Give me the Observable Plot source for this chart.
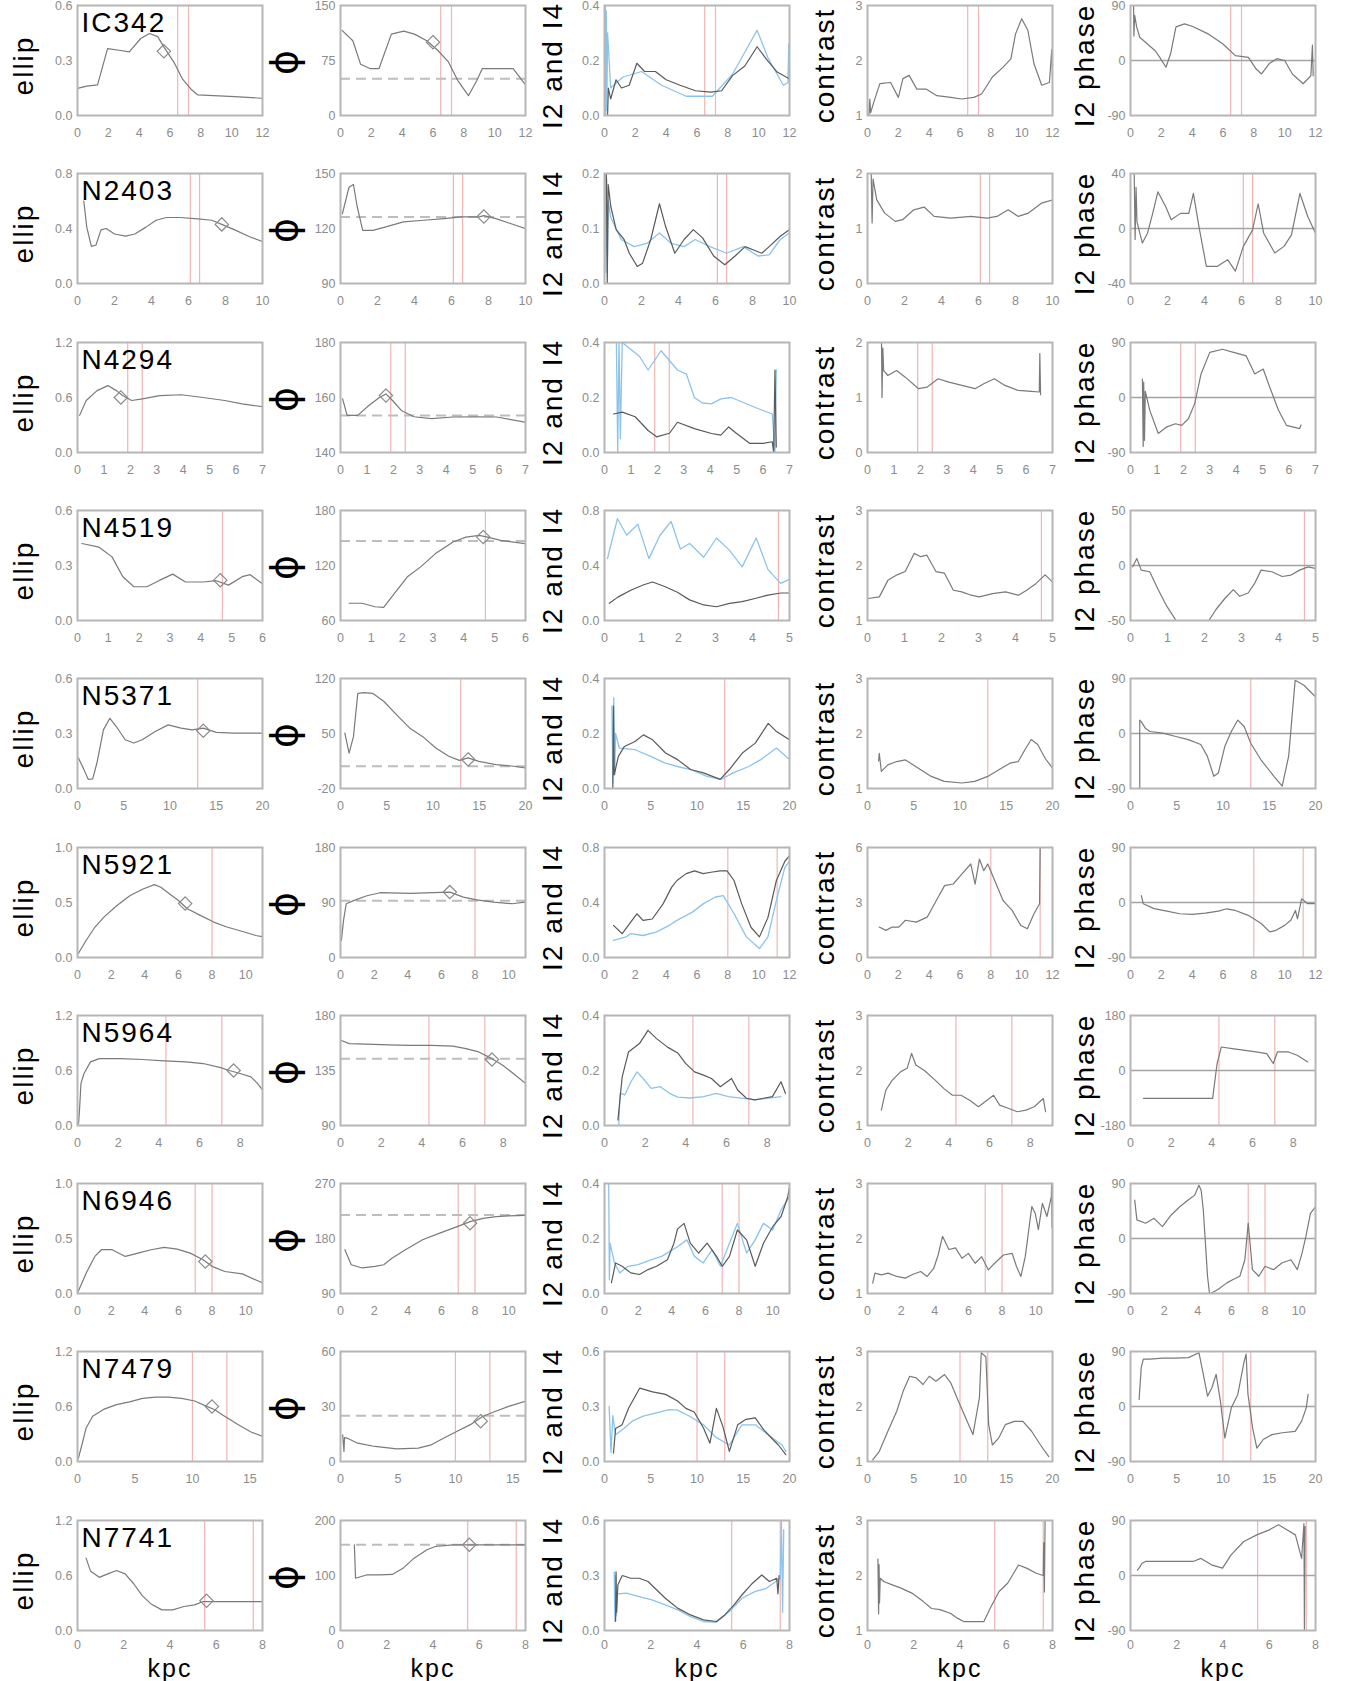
<!DOCTYPE html>
<html><head><meta charset="utf-8">
<script src="https://cdn.jsdelivr.net/npm/d3@7"></script>
<script src="https://cdn.jsdelivr.net/npm/@observablehq/plot@0.6"></script>
<style>
body{margin:0;background:#fff;}
#fig{position:relative;width:1351px;height:1681px;overflow:hidden;background:#fff;}
.cell{position:absolute;}
</style></head><body><div id="fig"></div>
<script>
// ---------------- data ----------------
const galaxies = ["IC342","N2403","N4294","N4519","N5371","N5921","N5964","N6946","N7479","N7741"];
const colLabels = ["ellip","\u03D5","I2 and I4","contrast","I2 phase"];
const xMaxInner = [12,10,7,6,20,11,9.1,11,16.1,8];
const xMaxOuter = [12,10,7,5,20,12,9.1,11,20,8];
const xTicksInner = [[0,2,4,6,8,10,12],[0,2,4,6,8,10],[0,1,2,3,4,5,6,7],[0,1,2,3,4,5,6],[0,5,10,15,20],[0,2,4,6,8,10],[0,2,4,6,8],[0,2,4,6,8,10],[0,5,10,15],[0,2,4,6,8]];
const xTicksOuter = [[0,2,4,6,8,10,12],[0,2,4,6,8,10],[0,1,2,3,4,5,6,7],[0,1,2,3,4,5],[0,5,10,15,20],[0,2,4,6,8,10,12],[0,2,4,6,8],[0,2,4,6,8,10],[0,5,10,15,20],[0,2,4,6,8]];
const ellipTicks = [[0,0.3,0.6],[0,0.4,0.8],[0,0.6,1.2],[0,0.3,0.6],[0,0.3,0.6],[0,0.5,1.0],[0,0.6,1.2],[0,0.5,1.0],[0,0.6,1.2],[0,0.6,1.2]];
const phiTicks = [[0,75,150],[90,120,150],[140,160,180],[60,120,180],[-20,50,120],[0,90,180],[90,135,180],[90,180,270],[0,30,60],[0,100,200]];
const i24Ticks = [[0,0.2,0.4],[0,0.1,0.2],[0,0.2,0.4],[0,0.4,0.8],[0,0.2,0.4],[0,0.4,0.8],[0,0.2,0.4],[0,0.2,0.4],[0,0.3,0.6],[0,0.3,0.6]];
const contrastTicks = [[1,2,3],[0,1,2],[0,1,2],[1,2,3],[1,2,3],[0,3,6],[1,2,3],[1,2,3],[1,2,3],[1,2,3]];
const phaseTicks = [[-90,0,90],[-40,0,40],[-90,0,90],[-50,0,50],[-90,0,90],[-90,0,90],[-180,0,180],[-90,0,90],[-90,0,90],[-90,0,90]];
const redLines = [[6.5,7.2],[6.1,6.6],[1.9,2.45],[4.7],[13.0],[8.0,11.2],[4.35,7.1],[7.0,8.0],[10.0,13.0],[5.5,7.6]];
const phiDisk = [50,126.3,153.5,146.6,8.3,93,144.7,218.5,25,155.8];
const ellipDiamond = [[5.6,0.35],[7.8,0.43],[1.64,0.6],[4.63,0.22],[13.6,0.315],[6.4,0.49],[7.68,0.6],[7.6,0.29],[11.7,0.6],[5.58,0.324]];
const phiDiamond = [[6.0,100],[7.75,126.5],[1.72,160.7],[4.63,151],[13.8,17],[6.5,107],[7.45,144],[7.7,205],[12.2,22],[5.57,155.8]];

// IC342
const ic342Ellip = [[0,0.148],[0.6,0.16],[1.3,0.167],[1.95,0.365],[2.7,0.356],[3.36,0.347],[4.1,0.42],[4.67,0.447],[5.2,0.43],[5.6,0.374],[6.3,0.284],[6.8,0.2],[7.4,0.14],[7.8,0.112],[10.2,0.103],[12,0.094]];
const ic342Phi = [[0.1,116],[0.8,102],[1.3,70],[1.9,64],[2.5,64],[3.3,111],[4.1,115],[4.8,111],[5.6,102],[6.3,89],[7,73],[7.6,48],[8.3,27],[8.85,48],[9.2,64],[10.3,64],[11.2,64],[11.95,43]];
const ic342I2 = [[0.2,0.0],[0.25,0.1],[0.4,0.06],[0.75,0.13],[1.1,0.1],[1.6,0.11],[2.1,0.19],[2.6,0.16],[3.3,0.16],[4,0.13],[4.9,0.11],[5.9,0.09],[6.9,0.085],[7.6,0.09],[8.3,0.145],[9.1,0.18],[9.9,0.25],[10.5,0.205],[11.2,0.158],[12,0.133]];
const ic342I4 = [[0.05,0.4],[0.08,0.0],[0.12,0.38],[0.15,0.02],[0.2,0.3],[0.4,0.1],[1.2,0.14],[2.4,0.16],[3.7,0.11],[5.3,0.07],[7,0.07],[8.3,0.15],[9.9,0.31],[10.6,0.21],[11.6,0.11],[11.9,0.12],[11.95,0.26],[12,0.12]];
const ic342Contrast = [[0.1,1.0],[0.15,1.3],[0.2,1.05],[0.44,1.27],[0.8,1.58],[1.5,1.6],[2,1.33],[2.3,1.67],[2.7,1.73],[3.2,1.48],[3.8,1.48],[4.5,1.36],[5.4,1.33],[6.1,1.3],[6.9,1.33],[7.4,1.39],[8.1,1.7],[8.8,1.88],[9.3,2.03],[9.6,2.48],[10,2.76],[10.4,2.55],[10.8,1.94],[11.3,1.55],[11.8,1.6],[11.95,2.2],[12,1.67]];
const ic342Phase = [[0.2,90],[0.22,40],[0.27,74],[0.4,55],[0.6,38],[1.1,27],[1.6,16],[1.9,5],[2.3,-11],[2.6,11],[2.95,55],[3.5,60],[4,56],[5,44],[6,27],[6.8,8],[7.65,5],[8.15,-14],[8.5,-22],[9,-5],[9.5,3],[10,0],[10.5,-22],[11.2,-38],[11.7,-25],[11.8,25],[11.85,-25]];
// N2403
const n2403Ellip = [[0.34,0.6],[0.5,0.41],[0.75,0.27],[1,0.28],[1.27,0.39],[1.55,0.4],[2,0.36],[2.6,0.345],[3.1,0.36],[3.7,0.41],[4.25,0.46],[4.8,0.48],[5.55,0.48],[6.5,0.47],[7.25,0.46],[7.8,0.43],[8.5,0.39],[9.3,0.34],[10,0.305]];
const n2403Phi = [[0.1,128],[0.46,142.5],[0.7,144],[0.9,132],[1.2,119],[1.75,119],[2.5,121],[3.4,123.6],[4.5,124.5],[5.6,125.4],[6.5,126.3],[7.5,126.3],[7.75,127],[8.4,125.4],[9.1,123],[10,120]];
const n2403I2 = [[0.1,0.2],[0.15,0.0],[0.2,0.18],[0.34,0.14],[0.63,0.098],[1.06,0.08],[1.34,0.055],[1.77,0.031],[2.06,0.037],[2.5,0.08],[2.97,0.145],[3.3,0.104],[3.8,0.055],[4.3,0.08],[4.8,0.098],[5.3,0.083],[5.9,0.05],[6.5,0.034],[7.06,0.05],[7.6,0.067],[8.06,0.061],[8.5,0.055],[8.9,0.067],[9.5,0.086],[10,0.098]];
const n2403I4 = [[0.05,0.2],[0.08,0.02],[0.12,0.19],[0.16,0.05],[0.2,0.15],[0.34,0.12],[0.9,0.08],[1.6,0.067],[2.3,0.073],[2.97,0.092],[3.6,0.073],[4.3,0.067],[4.9,0.08],[5.7,0.067],[6.6,0.055],[7.5,0.067],[8.3,0.05],[8.9,0.052],[9.5,0.08],[10,0.092]];
const n2403Contrast = [[0.2,2.0],[0.25,1.1],[0.3,1.9],[0.5,1.52],[0.93,1.28],[1.5,1.13],[1.9,1.16],[2.5,1.34],[3.06,1.39],[3.6,1.22],[4.5,1.19],[5.6,1.22],[6.46,1.19],[7,1.22],[7.6,1.34],[8.15,1.22],[8.7,1.28],[9.4,1.46],[10,1.52]];
const n2403Phase = [[0.2,40],[0.25,-8],[0.3,30],[0.35,5],[0.64,-10.6],[0.92,-3.4],[1.2,11],[1.48,26.7],[1.9,16],[2.2,6.3],[2.7,11],[3.15,11],[3.4,25.5],[3.7,1.4],[4.1,-27.5],[4.7,-27.5],[5.25,-22.7],[5.67,-31],[6.1,-13],[6.6,-1],[6.9,18],[7.2,-3.4],[7.8,-17.8],[8.3,-13],[8.7,-4.6],[9.16,25.5],[9.58,8.7],[10,-3.4]];
// N4294
const n4294Ellip = [[0.08,0.405],[0.33,0.567],[0.74,0.675],[1.15,0.73],[1.47,0.675],[1.72,0.62],[2.05,0.567],[2.46,0.585],[3.11,0.62],[3.93,0.63],[4.75,0.6],[5.57,0.567],[6.23,0.53],[7,0.5]];
const n4294Phi = [[0.08,159.5],[0.25,153.5],[0.65,153.5],[1.06,157],[1.47,160],[1.72,161.3],[1.96,159],[2.3,155.3],[2.78,153],[3.44,152.3],[4.26,152.9],[5.07,153],[5.9,152.9],[7,151]];
const n4294I2 = [[0.34,0.14],[0.67,0.147],[1.16,0.13],[1.65,0.08],[1.97,0.057],[2.46,0.07],[2.76,0.11],[3.4,0.087],[4.05,0.069],[4.4,0.063],[4.7,0.093],[5.0,0.069],[5.5,0.033],[6.0,0.033],[6.35,0.039],[6.4,0.0],[6.45,0.3],[6.5,0.02]];
const n4294I4 = [[0.45,0.4],[0.5,0.0],[0.55,0.4],[0.6,0.05],[0.67,0.4],[1.32,0.35],[1.65,0.3],[2.14,0.37],[2.76,0.3],[3.1,0.285],[3.4,0.2],[3.7,0.18],[4.05,0.177],[4.4,0.195],[4.8,0.2],[5.3,0.18],[5.8,0.16],[6.35,0.14],[6.45,0.0],[6.5,0.3]];
const n4294Contrast = [[0.53,2.0],[0.55,1.0],[0.58,1.9],[0.61,1.49],[0.77,1.4],[1.1,1.49],[1.43,1.37],[1.93,1.16],[2.26,1.19],[2.67,1.34],[3.08,1.28],[3.57,1.22],[4.07,1.16],[4.4,1.25],[4.8,1.34],[5.2,1.22],[5.7,1.13],[6.2,1.11],[6.5,1.1],[6.52,1.8],[6.55,1.05]];
const n4294Phase = [[0.45,30],[0.48,-80],[0.5,25],[0.53,-70],[0.56,10],[0.73,-21],[1.05,-59],[1.38,-48],[1.7,-43],[1.94,-45.5],[2.19,-34.7],[2.43,-10],[2.67,38.5],[3,73.8],[3.48,79],[3.9,73.8],[4.38,68],[4.7,38.5],[5.02,46.6],[5.27,16.8],[5.6,-21],[5.9,-45.5],[6.4,-51],[6.45,-45]];
// N4519
const n4519Ellip = [[0.14,0.42],[0.7,0.40],[1.12,0.347],[1.47,0.239],[1.83,0.184],[2.25,0.184],[2.67,0.22],[3.09,0.253],[3.5,0.21],[4.07,0.21],[4.5,0.217],[4.9,0.193],[5.34,0.239],[5.6,0.25],[6,0.2]];
const n4519Phi = [[0.28,78.8],[0.7,78.8],[1.12,75],[1.4,74.4],[1.75,89.6],[2.17,107.7],[2.6,118.5],[3.08,133],[3.65,145.7],[4.07,151],[4.5,152.8],[4.77,151],[5.2,147.4],[6,143.8]];
const n4519I2 = [[0.13,0.125],[0.36,0.17],[0.71,0.22],[1.06,0.26],[1.3,0.28],[1.64,0.245],[1.97,0.205],[2.3,0.15],[2.68,0.113],[3.03,0.1],[3.38,0.125],[3.72,0.137],[4.07,0.16],[4.42,0.185],[4.76,0.2],[5,0.2]];
const n4519I4 = [[0.08,0.45],[0.35,0.74],[0.6,0.62],[0.9,0.7],[1.2,0.45],[1.5,0.62],[1.8,0.72],[2.05,0.52],[2.3,0.56],[2.68,0.46],[3.03,0.6],[3.38,0.51],[3.72,0.39],[4.1,0.6],[4.42,0.37],[4.76,0.27],[5,0.3]];
const n4519Contrast = [[0.02,1.4],[0.32,1.43],[0.55,1.73],[0.8,1.83],[1.02,1.89],[1.26,2.22],[1.44,2.16],[1.6,2.19],[1.85,1.89],[2.08,1.86],[2.32,1.55],[2.55,1.52],[2.8,1.46],[3.02,1.43],[3.38,1.49],[3.73,1.52],[4.08,1.46],[4.3,1.55],[4.55,1.67],[4.8,1.83],[5,1.7]];
const n4519Phase = [[0.06,-1.2],[0.17,6.3],[0.29,-4.2],[0.52,-5.7],[0.75,-22],[0.98,-37],[1.27,-52],[1.5,-62],[1.85,-60],[2.08,-52],[2.31,-40],[2.55,-30],[2.78,-22],[2.95,-28],[3.18,-25],[3.36,-16],[3.53,-4.2],[3.82,-5.7],[4.1,-10],[4.34,-8.7],[4.57,-4.2],[4.8,-1.2],[5,-2.7]];
// N5371
const n5371Ellip = [[0.1,0.166],[0.7,0.103],[1.17,0.049],[1.64,0.052],[2.1,0.139],[2.8,0.32],[3.5,0.383],[4.2,0.338],[5.15,0.266],[6.1,0.248],[7,0.266],[8.4,0.311],[9.8,0.347],[11.2,0.329],[12.4,0.32],[13.6,0.329],[15,0.306],[16.9,0.302],[20,0.302]];
const n5371Phi = [[0.47,50.5],[0.93,25],[1.4,46],[1.87,101],[2.57,102],[3.5,101],[4.67,91],[6.07,73.7],[7.5,56.8],[8.9,46],[10.3,31.5],[11.7,21],[12.85,15.8],[13.8,19],[14.95,14.6],[16.8,10.4],[18.7,8.3],[20,6.2]];
const n5371I2 = [[0.9,0.0],[0.97,0.3],[1.05,0.05],[1.5,0.117],[2.15,0.153],[3.3,0.171],[4.2,0.195],[5.2,0.177],[6.6,0.129],[7.9,0.105],[9.3,0.069],[10.7,0.057],[12.5,0.033],[13.5,0.069],[14.9,0.129],[16.3,0.165],[17.7,0.237],[18.6,0.207],[20,0.177]];
const n5371I4 = [[0.8,0.3],[0.9,0.02],[1.0,0.33],[1.1,0.05],[1.2,0.2],[1.6,0.147],[3.3,0.141],[5,0.117],[6.5,0.093],[7.9,0.08],[9.3,0.069],[11,0.045],[12.6,0.033],[13.9,0.057],[15.6,0.08],[16.9,0.105],[18.6,0.147],[20,0.105]];
const n5371Contrast = [[1.2,1.5],[1.27,1.64],[1.5,1.31],[2.2,1.43],[3.15,1.49],[4.1,1.52],[5.5,1.37],[6.9,1.22],[8.3,1.13],[10.2,1.1],[11.6,1.13],[13,1.22],[14.2,1.34],[15.4,1.46],[16.3,1.49],[17,1.7],[17.7,1.89],[18.4,1.8],[19.2,1.55],[20,1.37]];
const n5371Phase = [[1.0,-90],[1.0,22],[1.16,19.5],[1.6,8.7],[2.1,3.3],[3.5,0.5],[4.9,-4.9],[6.25,-10],[7.6,-18],[8.3,-37],[9,-70],[9.5,-64.5],[10.2,-21],[10.9,3.3],[11.6,22],[12.3,11],[13,-16],[14.1,-43],[15.5,-70],[16.4,-86],[17.1,-37],[17.8,87],[18.75,79],[20,60]];
// N5921
const n5921Ellip = [[0.05,0.036],[0.52,0.157],[1.04,0.277],[1.57,0.367],[2.35,0.473],[3.13,0.563],[3.9,0.623],[4.57,0.663],[4.96,0.639],[5.48,0.578],[6,0.518],[6.53,0.443],[7.3,0.383],[8.1,0.322],[8.88,0.277],[9.92,0.232],[10.6,0.2],[11,0.19]];
const n5921Phi = [[0.05,28],[0.18,60.7],[0.34,88],[0.78,93],[1.57,101],[2.35,106],[4.18,105],[5.5,106],[6.5,107],[7.3,98.7],[8.1,94.4],[9.1,90.6],[10.2,88],[11,90.6]];
const n5921I2 = [[0.58,0.234],[1.15,0.173],[1.7,0.258],[2.1,0.318],[2.5,0.27],[3.1,0.28],[3.8,0.39],[4.35,0.51],[4.7,0.56],[5.3,0.61],[5.84,0.63],[6.4,0.61],[6.9,0.62],[7.5,0.63],[7.95,0.63],[8.4,0.56],[8.9,0.39],[9.5,0.22],[10.05,0.15],[10.6,0.29],[11.15,0.56],[11.7,0.7],[12,0.74]];
const n5921I4 = [[0.58,0.125],[1.4,0.15],[1.7,0.173],[2.5,0.16],[3.35,0.185],[4.2,0.234],[4.7,0.27],[5.7,0.33],[6.4,0.39],[7.2,0.44],[7.7,0.45],[8.4,0.32],[9.2,0.15],[10.05,0.065],[10.6,0.15],[11.15,0.415],[11.7,0.655],[12,0.7]];
const n5921Contrast = [[0.76,1.66],[1.19,1.48],[1.6,1.66],[2.03,1.66],[2.46,2.03],[3.16,1.93],[3.87,2.2],[4.58,3.29],[5,3.92],[5.56,4.01],[6.13,4.56],[6.7,5.1],[6.98,4.0],[7.26,5.37],[7.54,4.74],[7.8,5.1],[8.25,4.2],[8.8,3.1],[9.38,2.57],[9.94,1.75],[10.37,1.57],[10.8,2.39],[11.16,2.93],[11.2,6]];
const n5921Phase = [[0.7,11.4],[0.83,-2],[1.53,-10],[2.36,-14],[3.2,-18.4],[4,-19.5],[4.86,-17.4],[5.7,-14],[6.25,-10.3],[6.8,-13],[7.64,-21],[8.5,-34.7],[9.03,-48],[9.44,-45.5],[10,-37.4],[10.4,-29],[10.7,-13],[10.83,-26.6],[11.1,6],[11.5,-2],[12,-2]];
// N5964
const n5964Ellip = [[0.05,0.02],[0.1,0.17],[0.17,0.46],[0.32,0.567],[0.64,0.694],[1.07,0.73],[2.13,0.73],[3.2,0.72],[4.26,0.705],[5.33,0.694],[6.18,0.676],[7.04,0.632],[7.46,0.6],[8,0.567],[8.53,0.53],[8.85,0.46],[9.1,0.387]];
const n5964Phi = [[0.04,159.6],[0.43,157],[1.28,156.5],[2.34,156],[3.4,155.6],[4.47,155.6],[5.53,155],[6.17,152.9],[6.8,150.2],[7.45,144.7],[7.98,139.3],[8.5,132.5],[9.1,124.4]];
const n5964I2 = [[0.66,0.02],[0.87,0.177],[1.18,0.267],[1.72,0.298],[2.14,0.346],[2.56,0.316],[3.1,0.285],[3.6,0.264],[4.0,0.225],[4.43,0.195],[4.87,0.183],[5.26,0.171],[5.7,0.141],[6.25,0.171],[6.55,0.129],[6.98,0.099],[7.4,0.093],[7.82,0.099],[8.26,0.105],[8.68,0.159],[8.9,0.117]];
const n5964I4 = [[0.7,0.0],[0.77,0.117],[1.0,0.111],[1.3,0.159],[1.6,0.195],[1.9,0.171],[2.3,0.135],[2.75,0.141],[3.2,0.117],[3.6,0.103],[4.2,0.1],[4.87,0.105],[5.5,0.117],[6.1,0.105],[6.8,0.099],[7.4,0.093],[8.0,0.099],[8.68,0.105]];
const n5964Contrast = [[0.68,1.28],[0.9,1.64],[1.21,1.82],[1.64,1.98],[1.95,2.04],[2.17,2.31],[2.38,2.1],[2.8,2.0],[3.34,1.82],[3.76,1.67],[4.18,1.55],[4.6,1.55],[5.03,1.46],[5.46,1.34],[5.88,1.46],[6.2,1.55],[6.5,1.37],[6.95,1.31],[7.37,1.25],[7.8,1.28],[8.2,1.34],[8.65,1.49],[8.76,1.25]];
const n5964Phase = [[0.64,-91],[1.6,-91],[2.66,-91],[4.04,-91],[4.26,22.8],[4.47,77],[5,71.6],[5.64,66],[6.17,60.7],[6.7,55],[7.02,22.8],[7.23,60.7],[7.77,60.7],[8.2,50],[8.72,28]];
// N6946
const n6946Ellip = [[0.05,0.02],[0.52,0.187],[1.03,0.337],[1.42,0.398],[2.06,0.398],[2.84,0.337],[3.6,0.367],[4.38,0.398],[5.15,0.42],[5.93,0.404],[6.7,0.367],[7.47,0.307],[8,0.247],[8.76,0.2],[9.8,0.178],[11,0.096]];
const n6946Phi = [[0.26,161.6],[0.64,137],[1.29,131.8],[2.06,134.5],[2.57,137],[3.08,148],[3.86,161.6],[4.88,177.9],[5.9,188.7],[6.94,199.5],[7.7,207.7],[8.48,213],[9.25,215.8],[10,216.9],[11,218]];
const n6946I2 = [[0.41,0.039],[0.66,0.111],[1.05,0.099],[1.56,0.075],[2.08,0.069],[2.59,0.087],[3.1,0.099],[3.74,0.123],[4.13,0.183],[4.34,0.234],[4.73,0.255],[5.1,0.183],[5.6,0.147],[6.1,0.183],[6.66,0.135],[7.0,0.099],[7.43,0.135],[7.9,0.231],[8.45,0.195],[8.96,0.099],[9.45,0.183],[10,0.243],[10.5,0.28],[10.9,0.352],[11,0.388]];
const n6946I4 = [[0.25,0.4],[0.29,0.05],[0.33,0.183],[0.6,0.11],[0.9,0.075],[1.4,0.099],[2.0,0.105],[2.8,0.123],[3.4,0.135],[4.34,0.17],[4.9,0.195],[5.35,0.135],[5.87,0.111],[6.4,0.159],[6.9,0.099],[7.43,0.183],[7.9,0.255],[8.45,0.147],[8.96,0.195],[9.45,0.255],[10,0.231],[10.5,0.304],[11,0.352]];
const n6946Contrast = [[0.31,1.19],[0.44,1.37],[0.83,1.34],[1.22,1.37],[1.74,1.31],[2.25,1.28],[2.64,1.34],[3.16,1.4],[3.55,1.31],[3.94,1.46],[4.2,1.7],[4.46,2.04],[4.84,1.8],[5.23,1.83],[5.62,1.64],[6.0,1.73],[6.4,1.55],[6.79,1.67],[7.18,1.43],[7.56,1.55],[8.08,1.7],[8.6,1.73],[8.86,1.49],[9.12,1.31],[9.38,1.67],[9.64,2.28],[9.77,2.58],[9.97,2.46],[10.16,2.16],[10.4,2.64],[10.67,2.4],[10.93,2.76],[10.95,3],[10.97,2.2]];
const n6946Phase = [[0.25,62.9],[0.38,30.4],[0.9,25],[1.4,33],[1.9,19.5],[2.42,38.5],[2.93,52],[3.43,63],[3.82,71],[4.07,87],[4.2,79],[4.33,46.6],[4.58,-61.8],[4.7,-91],[5.2,-83.5],[5.73,-72.6],[6.1,-67],[6.5,-61.8],[6.8,-34.7],[7.0,25],[7.25,-51],[7.63,-61.8],[8.0,-45.5],[8.5,-51],[9.0,-40],[9.54,-34.7],[9.92,-51],[10.2,-24],[10.43,3.3],[10.7,41],[11,52]];
// N7479
const n7479Ellip = [[0.08,0.037],[0.38,0.18],[0.75,0.366],[1.32,0.494],[2.26,0.568],[3.4,0.62],[4.53,0.65],[5.66,0.688],[6.8,0.703],[7.9,0.703],[9.06,0.688],[10.2,0.66],[11.1,0.61],[11.9,0.568],[12.8,0.494],[14,0.4],[15.1,0.322],[16.1,0.275]];
const n7479Phi = [[0.19,14.6],[0.3,5.5],[0.35,13],[0.56,12.8],[1.5,10],[3,8.2],[4.9,6.9],[6.77,7.3],[7.9,9.1],[9,12.8],[10.15,16.5],[11.3,20.1],[12.4,24.7],[13.5,27.4],[14.7,30.2],[16.1,32.9]];
const n7479I2 = [[0.97,0.046],[1.2,0.18],[1.9,0.2],[2.6,0.29],[3.8,0.4],[5.2,0.38],[6.6,0.366],[7.9,0.33],[8.8,0.29],[9.7,0.27],[10.7,0.183],[11.4,0.1],[12.1,0.29],[12.8,0.19],[13.5,0.055],[14.4,0.2],[15.3,0.23],[16.3,0.238],[17.2,0.174],[18.2,0.12],[18.8,0.09],[19.6,0.037]];
const n7479I4 = [[0.5,0.3],[0.7,0.05],[0.9,0.25],[1.2,0.146],[2.1,0.18],[3,0.22],[4.2,0.247],[5.6,0.265],[7.0,0.283],[7.9,0.28],[9.2,0.247],[10.7,0.2],[12.1,0.13],[13.5,0.09],[14.85,0.2],[16.3,0.2],[17.7,0.146],[19.2,0.09],[19.6,0.055]];
const n7479Contrast = [[0.56,1.03],[1.27,1.18],[2.2,1.55],[3.15,1.91],[3.86,2.28],[4.56,2.55],[5.27,2.52],[6,2.4],[6.68,2.55],[7.4,2.46],[8.33,2.58],[9.0,2.43],[9.74,2.13],[10.7,1.76],[11.4,1.49],[12.1,2.16],[12.3,2.98],[12.8,2.9],[13.1,1.67],[13.5,1.3],[14.2,1.43],[14.9,1.67],[15.86,1.73],[16.8,1.73],[17.74,1.55],[18.7,1.3],[19.6,1.09]];
const n7479Phase = [[0.93,11.5],[1.16,63.7],[1.39,77.4],[2.08,77.4],[3.47,79],[4.86,79],[6.25,80],[7.4,88],[7.87,52.7],[8.33,17],[8.8,30.7],[9.26,52.7],[9.72,8.8],[10.2,-51.6],[10.9,-2.2],[11.6,19.8],[12.3,74.6],[12.5,85.6],[12.7,19.8],[13.2,-35],[13.66,-68],[14.35,-54],[15.3,-46],[16.4,-43],[17.8,-40.6],[18.5,-24],[19,-2.2],[19.2,19.8]];
// N7741
const n7741Ellip = [[0.37,0.79],[0.56,0.65],[0.94,0.58],[1.31,0.618],[1.69,0.655],[2.06,0.618],[2.43,0.51],[2.8,0.38],[3.18,0.29],[3.65,0.225],[4.12,0.225],[4.6,0.262],[5.06,0.28],[5.43,0.316],[6,0.316],[6.93,0.316],[8,0.316]];
const n7741Phi = [[0.6,155.8],[0.65,95],[1.12,101],[1.68,101],[2.24,102],[2.7,113],[3.18,131.5],[3.74,146.7],[4.1,152.7],[4.86,155.8],[5.5,155.8],[6.17,155.8],[8,155.8]];
const n7741I2 = [[0.48,0.05],[0.5,0.32],[0.52,0.1],[0.58,0.25],[0.77,0.3],[1.13,0.285],[1.5,0.285],[1.88,0.267],[2.25,0.222],[2.63,0.176],[2.98,0.14],[3.16,0.122],[3.72,0.085],[4.28,0.058],[4.84,0.049],[5.2,0.085],[5.6,0.14],[5.95,0.195],[6.4,0.258],[6.8,0.303],[7.13,0.267],[7.45,0.285],[7.5,0.2],[7.55,0.3]];
const n7741I4 = [[0.42,0.32],[0.45,0.05],[0.48,0.3],[0.52,0.08],[0.56,0.2],[0.95,0.204],[1.5,0.185],[2.05,0.167],[2.63,0.14],[3.16,0.113],[3.72,0.076],[4.28,0.049],[4.84,0.045],[5.4,0.104],[5.95,0.176],[6.5,0.212],[7.0,0.23],[7.6,0.285],[7.65,0.6],[7.7,0.1],[7.75,0.55]];
const n7741Contrast = [[0.45,2.3],[0.48,1.3],[0.5,2.2],[0.52,1.5],[0.55,1.95],[0.7,1.89],[1.07,1.83],[1.45,1.77],[1.92,1.68],[2.4,1.53],[2.77,1.4],[3.14,1.38],[3.6,1.31],[3.9,1.22],[4.18,1.16],[4.65,1.16],[5.03,1.16],[5.3,1.4],[5.69,1.71],[6.06,1.86],[6.53,2.19],[6.9,2.13],[7.29,2.04],[7.6,2.0],[7.62,2.6],[7.65,1.7],[7.68,3.0]];
const n7741Phase = [[0.3,9],[0.37,12],[0.5,20],[0.65,23],[1.2,23],[1.94,23],[2.7,23],[3.05,28],[3.5,17.5],[3.98,12],[4.35,33.8],[4.9,55.6],[5.46,66.5],[6.0,74.7],[6.4,83],[6.76,74.7],[7.13,66.5],[7.4,28],[7.5,85],[7.52,-90],[7.55,80]];

// ---------------- tables built from the arrays ----------------
const ellipCurves = [ic342Ellip,n2403Ellip,n4294Ellip,n4519Ellip,n5371Ellip,n5921Ellip,n5964Ellip,n6946Ellip,n7479Ellip,n7741Ellip];
const phiCurves = [ic342Phi,n2403Phi,n4294Phi,n4519Phi,n5371Phi,n5921Phi,n5964Phi,n6946Phi,n7479Phi,n7741Phi];
const i2Curves = [ic342I2,n2403I2,n4294I2,n4519I2,n5371I2,n5921I2,n5964I2,n6946I2,n7479I2,n7741I2];
const i4Curves = [ic342I4,n2403I4,n4294I4,n4519I4,n5371I4,n5921I4,n5964I4,n6946I4,n7479I4,n7741I4];
const contrastCurves = [ic342Contrast,n2403Contrast,n4294Contrast,n4519Contrast,n5371Contrast,n5921Contrast,n5964Contrast,n6946Contrast,n7479Contrast,n7741Contrast];
const phaseCurves = [ic342Phase,n2403Phase,n4294Phase,n4519Phase,n5371Phase,n5921Phase,n5964Phase,n6946Phase,n7479Phase,n7741Phase];

// ---------------- layout & drawing ----------------
const colLeft = [77, 340, 604, 867, 1130];
const frameW = 185, frameH = 110, rowPitch = 168.3, firstTop = 5;
const mL = 77, mR = 2, mT = 8;
const labelOffset = [53, 56, 51, 42, 45];
const tickColor = "#8c8c8c", lineColor = "#7a7a7a", redColor = "#f0b4b4";
const FONT = "'Liberation Sans', Arial, Helvetica, sans-serif";

function makePanel(g, c) {
  const last = g === galaxies.length - 1;
  const mB = last ? 56 : 30;
  const inner = c < 2;
  const xMax = inner ? xMaxInner[g] : xMaxOuter[g];
  const xTicks = inner ? xTicksInner[g] : xTicksOuter[g];
  const yT = [ellipTicks, phiTicks, i24Ticks, contrastTicks, phaseTicks][c][g];
  const yFmt = (c === 0 || c === 2) ? d3.format(".1f") : (d => String(d));
  const X = d => d[0], Y = d => d[1];
  const vl = redLines[g].filter(v => v >= 0 && v <= xMax);
  const marks = [];
  marks.push(Plot.ruleX(vl, {stroke: redColor, strokeWidth: 1.2}));
  if (c === 1) marks.push(Plot.ruleY([phiDisk[g]], {stroke: "#bdbdbd", strokeWidth: 2, strokeDasharray: "10,6"}));
  if (c === 4) marks.push(Plot.ruleY([0], {stroke: "#a3a3a3", strokeWidth: 1.6}));
  if (c === 0) marks.push(Plot.line(ellipCurves[g], {x: X, y: Y, stroke: lineColor, strokeWidth: 1.2, clip: true}));
  if (c === 1) marks.push(Plot.line(phiCurves[g], {x: X, y: Y, stroke: lineColor, strokeWidth: 1.2, clip: true}));
  if (c === 2) {
    marks.push(Plot.line(i4Curves[g], {x: X, y: Y, stroke: "#8cc3ea", strokeWidth: 1.3, clip: true}));
    marks.push(Plot.line(i2Curves[g], {x: X, y: Y, stroke: "#5a5a5a", strokeWidth: 1.2, clip: true}));
  }
  if (c === 3) marks.push(Plot.line(contrastCurves[g], {x: X, y: Y, stroke: lineColor, strokeWidth: 1.2, clip: true}));
  if (c === 4) marks.push(Plot.line(phaseCurves[g], {x: X, y: Y, stroke: lineColor, strokeWidth: 1.2, clip: true}));
  if (c === 0) marks.push(Plot.dot([ellipDiamond[g]], {x: X, y: Y, symbol: "diamond2", r: 6, stroke: "#8a8a8a", fill: "none", strokeWidth: 1.2}));
  if (c === 1) marks.push(Plot.dot([phiDiamond[g]], {x: X, y: Y, symbol: "diamond2", r: 6, stroke: "#8a8a8a", fill: "none", strokeWidth: 1.2}));
  marks.push(Plot.frame({stroke: "#b6b6b6", strokeWidth: 2}));
  marks.push(Plot.axisX({ticks: xTicks, tickFormat: d => String(d), tickSize: 0, tickPadding: last ? 10 : 13, fontSize: 12.5, color: tickColor, label: null}));
  marks.push(Plot.axisY({ticks: yT, tickFormat: yFmt, tickSize: 0, tickPadding: 5, fontSize: 12.5, color: tickColor, label: null}));
  if (c === 1) {
    marks.push(Plot.text([colLabels[c]], {text: d => d, frameAnchor: "left", rotate: -90, dx: -labelOffset[c], dy: 2, fontSize: 38, fontFamily: "'DejaVu Sans', sans-serif", fill: "#000", textAnchor: "middle", lineAnchor: "middle"}));
  } else {
    marks.push(Plot.text([colLabels[c]], {text: d => d, frameAnchor: "left", rotate: -90, dx: -labelOffset[c], dy: 5, fontSize: 28, fill: "#000", textAnchor: "middle", lineAnchor: "middle"}));
  }
  if (c === 0) marks.push(Plot.text([galaxies[g]], {text: d => d, frameAnchor: "top-left", dx: 4, dy: 7, fontSize: 28, fill: "#000", textAnchor: "start", lineAnchor: "top"}));
  if (last) marks.push(Plot.text(["kpc"], {text: d => d, frameAnchor: "bottom", dy: 46, fontSize: 25, fill: "#000", textAnchor: "middle", lineAnchor: "bottom"}));

  const svg = Plot.plot({
    width: mL + frameW + mR,
    height: mT + frameH + mB,
    marginLeft: mL, marginRight: mR, marginTop: mT, marginBottom: mB,
    x: {domain: [0, xMax]},
    y: {domain: [yT[0], yT[yT.length - 1]]},
    style: {fontFamily: FONT, overflow: "visible", background: "transparent"},
    marks
  });
  d3.select(svg).selectAll('g[font-size="28"] text, g[font-size="25"] text').attr("letter-spacing", "2px");
  return svg;
}

const fig = document.getElementById("fig");
galaxies.forEach((name, g) => {
  for (let c = 0; c < 5; c++) {
    const div = document.createElement("div");
    div.className = "cell";
    div.style.left = (colLeft[c] - mL) + "px";
    div.style.top = (firstTop + g * rowPitch - mT) + "px";
    div.appendChild(makePanel(g, c));
    fig.appendChild(div);
  }
});
</script></body></html>
